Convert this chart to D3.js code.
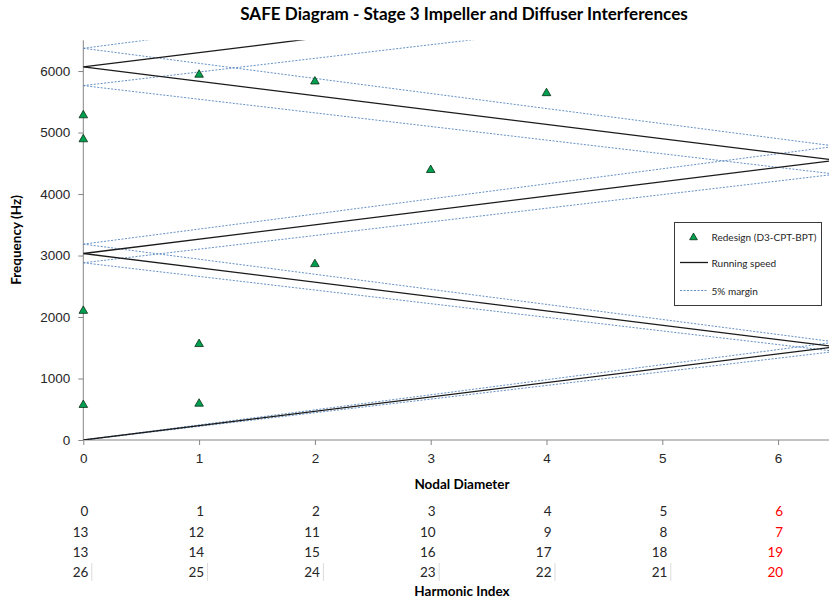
<!DOCTYPE html>
<html>
<head>
<meta charset="utf-8">
<script src="https://cdn.jsdelivr.net/npm/d3@7"></script>
<style>
  html, body { margin: 0; padding: 0; background: #fff; }
  svg { display: block; font-family: Lato, "Open Sans", "Liberation Sans", sans-serif; }
</style>
</head>
<body>
<svg id="chart" width="829" height="599"></svg>
<script>
// ---------------- DATA ----------------
const chartTitle = "SAFE Diagram - Stage 3 Impeller and Diffuser Interferences";
const xTicks = [0, 1, 2, 3, 4, 5, 6];
const yTicks = [0, 1000, 2000, 3000, 4000, 5000, 6000];

// Redesign (D3-CPT-BPT) measured modes: nodal diameter / frequency (Hz)
const modeND   = [0,    0,    0,    0,   1,    1,    1,   2,    2,    3,    4];
const modeFreq = [5280, 4890, 2100, 570, 5940, 1560, 590, 5830, 2860, 4390, 5640];

// Running-speed excitation lines (Z-diagram), endpoints [ND, Hz]
const runStartND  = [0,    0,    0,    0,    0];
const runStartHz  = [0,    3033, 3033, 6067, 6067];
const runEndND    = [6.5,  6.5,  6.5,  6.5,  6.5];
const runEndHz    = [1517, 1517, 4550, 4550, 7583];

// 5% margin lines, endpoints [ND, Hz]
const marStartND = [0,    0,    0,    0,    0,    0,    0,    0,    0,    0];
const marStartHz = [0,    3185, 3185, 6370, 6370, 0,    2882, 2882, 5763, 5763];
const marEndND   = [6.5,  6.5,  6.5,  6.5,  6.5,  6.5,  6.5,  6.5,  6.5,  6.5];
const marEndHz   = [1593, 1593, 4778, 4778, 7962, 1441, 1441, 4323, 4323, 7204];

// Harmonic index table under the axis
const harmRow1 = [0, 1, 2, 3, 4, 5, 6];
const harmRow2 = [13, 12, 11, 10, 9, 8, 7];
const harmRow3 = [13, 14, 15, 16, 17, 18, 19];
const harmRow4 = [26, 25, 24, 23, 22, 21, 20];
const harmRows = [harmRow1, harmRow2, harmRow3, harmRow4];
const highlightColumn = 6;

const legendLabels = ["Redesign (D3-CPT-BPT)", "Running speed", "5% margin"];

// ---------------- LAYOUT ----------------
const svg = d3.select("#chart");
const plot = { left: 83.3, right: 836, top: 40.3, bottom: 440 };
const x = d3.scaleLinear().domain([0, 6.5]).range([plot.left, plot.right]);
const y = d3.scaleLinear().domain([0, 6500]).range([plot.bottom, plot.top]);

const axisColor = "#868686";
const textColor = "#262626";
const blue = "#4a7ebb";
const green = "#00a050";

svg.append("defs").append("clipPath").attr("id", "plotClip")
  .append("rect")
  .attr("x", plot.left).attr("y", plot.top)
  .attr("width", plot.right - plot.left).attr("height", plot.bottom - plot.top);

// Title
const title = svg.append("text")
  .attr("x", 464).attr("y", 19.5)
  .attr("text-anchor", "middle")
  .attr("font-weight", "bold")
  .attr("font-size", 16)
  .attr("fill", "#000")
  .text(chartTitle);
{
  const w = title.node().getComputedTextLength();
  title.attr("font-size", 16 * 448 / w);
}

// Axes
const yAxis = d3.axisLeft(y).tickValues(yTicks).tickSize(5).tickPadding(8).tickFormat(d3.format("d"));
const gy = svg.append("g").attr("transform", `translate(${plot.left},0)`).call(yAxis);
gy.select(".domain").remove();
gy.append("line").attr("x1", 0).attr("x2", 0).attr("y1", plot.top).attr("y2", plot.bottom)
  .attr("stroke", axisColor).attr("stroke-width", 1);
gy.selectAll(".tick line").attr("stroke", axisColor);
gy.selectAll(".tick text").attr("font-size", 13.5).attr("fill", textColor).attr("font-family", null);

const xAxis = d3.axisBottom(x).tickValues(xTicks).tickSize(5).tickPadding(8).tickFormat(d3.format("d"));
const gx = svg.append("g").attr("transform", `translate(0,${plot.bottom})`).call(xAxis);
gx.select(".domain").remove();
gx.append("line").attr("x1", plot.left).attr("x2", plot.right).attr("y1", 0).attr("y2", 0)
  .attr("stroke", axisColor).attr("stroke-width", 1);
gx.selectAll(".tick line").attr("stroke", axisColor);
gx.selectAll(".tick text").attr("font-size", 13.5).attr("fill", textColor).attr("font-family", null);

// Axis titles
svg.append("text")
  .attr("transform", "translate(21,240) rotate(-90)")
  .attr("text-anchor", "middle").attr("font-weight", "bold").attr("font-size", 13.5)
  .attr("fill", "#000").text("Frequency (Hz)");
svg.append("text")
  .attr("x", 462).attr("y", 489)
  .attr("text-anchor", "middle").attr("font-weight", "bold").attr("font-size", 13.5)
  .attr("fill", "#000").text("Nodal Diameter");
svg.append("text")
  .attr("x", 462).attr("y", 596)
  .attr("text-anchor", "middle").attr("font-weight", "bold").attr("font-size", 13.5)
  .attr("fill", "#000").text("Harmonic Index");

// Plot content (clipped)
const g = svg.append("g").attr("clip-path", "url(#plotClip)");

const marginLines = marStartND.map((d, i) => [[d, marStartHz[i]], [marEndND[i], marEndHz[i]]]);
const runLines = runStartND.map((d, i) => [[d, runStartHz[i]], [runEndND[i], runEndHz[i]]]);
const lineGen = d3.line().x(d => x(d[0])).y(d => y(d[1]));

g.selectAll("path.margin").data(marginLines).join("path")
  .attr("class", "margin")
  .attr("d", lineGen)
  .attr("fill", "none").attr("stroke", blue).attr("stroke-width", 1)
  .attr("stroke-dasharray", "2,1.5").attr("opacity", 0.85);

g.selectAll("path.run").data(runLines).join("path")
  .attr("class", "run")
  .attr("d", lineGen)
  .attr("fill", "none").attr("stroke", "#1a1a1a").attr("stroke-width", 1.3);

const tri = d3.symbol().type(d3.symbolTriangle).size(32);
svg.append("g").selectAll("path.pt").data(modeND.map((d, i) => [d, modeFreq[i]])).join("path")
  .attr("class", "pt")
  .attr("transform", d => `translate(${x(d[0])},${y(d[1])})`)
  .attr("d", tri)
  .attr("fill", green).attr("stroke", "#0d2e14").attr("stroke-width", 0.8);

// Legend
const lg = svg.append("g");
lg.append("rect").attr("x", 674.5).attr("y", 222.5).attr("width", 147).attr("height", 83)
  .attr("fill", "#fff").attr("stroke", "#3a3a3a").attr("stroke-width", 1);
const legY = [236.5, 262.5, 290.5];
lg.append("path").attr("transform", `translate(693.5,${legY[0] + 1})`).attr("d", d3.symbol().type(d3.symbolTriangle).size(26))
  .attr("fill", green).attr("stroke", "#0d2e14").attr("stroke-width", 0.8);
lg.append("line").attr("x1", 680).attr("x2", 708).attr("y1", legY[1]).attr("y2", legY[1])
  .attr("stroke", "#1a1a1a").attr("stroke-width", 1.3);
lg.append("line").attr("x1", 680).attr("x2", 708).attr("y1", legY[2]).attr("y2", legY[2])
  .attr("stroke", blue).attr("stroke-width", 1).attr("stroke-dasharray", "2,1.5").attr("opacity", 0.85);
lg.selectAll("text.leg").data(legendLabels).join("text")
  .attr("class", "leg")
  .attr("x", 711.5).attr("y", (d, i) => legY[i] + 4)
  .attr("font-size", 11).attr("fill", textColor)
  .text(d => d);
{
  const t = lg.select("text.leg").node();
  const w = t.getComputedTextLength();
  lg.selectAll("text.leg").attr("font-size", 11 * 105 / w);
}

// Harmonic index table
const rowY = [516, 536.5, 557, 577];
const tbl = svg.append("g");
harmRows.forEach((row, r) => {
  tbl.selectAll(null).data(row).join("text")
    .attr("x", (d, i) => x(xTicks[i]) + 5)
    .attr("y", rowY[r])
    .attr("text-anchor", "end")
    .attr("font-size", 13.5)
    .attr("fill", (d, i) => i === highlightColumn ? "#ff0000" : textColor)
    .text(d => d);
});
tbl.selectAll("line.sep").data(xTicks.slice(0, 6)).join("line")
  .attr("class", "sep")
  .attr("x1", d => x(d) + 8.5).attr("x2", d => x(d) + 8.5)
  .attr("y1", 563).attr("y2", 581)
  .attr("stroke", "#dcdcdc").attr("stroke-width", 1);
</script>
</body>
</html>
